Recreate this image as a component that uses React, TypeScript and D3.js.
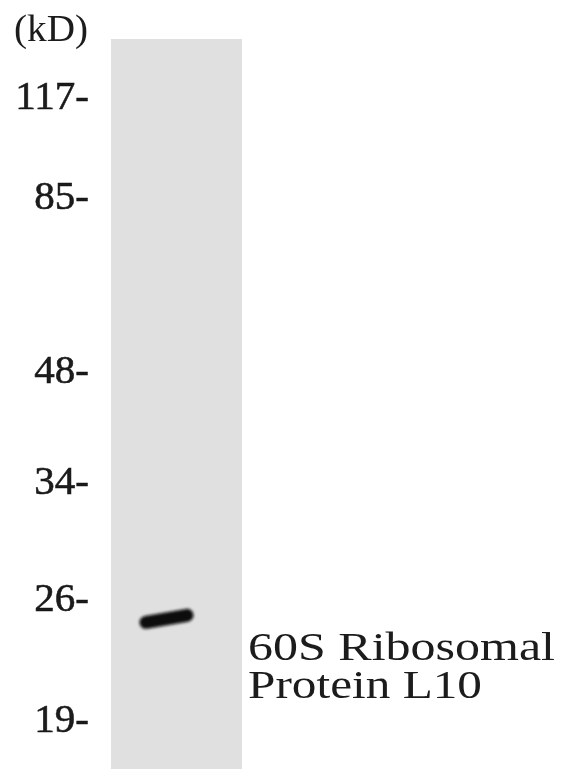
import React, { useEffect, useRef } from 'react';
import * as d3 from 'd3';

// Marker ladder (kD) and the measured centre of each label
const markerKd = [117, 85, 48, 34, 26, 19];
const markerY = [95, 195, 369, 480, 597, 718];

const lanes = ['sample'];
// detected band: lane and apparent size
const bandLane = ['sample'];
const bandKd = [24.6];

const proteinName = ['60S Ribosomal', 'Protein L10'];

const W = 561;
const H = 769;
const FONT = 'Liberation Serif, Times New Roman, Times, serif';

const App: React.FC = () => {
  const ref = useRef<SVGSVGElement>(null);

  useEffect(() => {
    if (!ref.current) return;
    const svg = d3.select(ref.current);
    svg.selectAll('*').remove();

    // piecewise log scale calibrated on the ladder
    const y = d3.scaleLog().domain(markerKd).range(markerY);
    const x = d3.scaleBand<string>().domain(lanes).range([111, 242]).padding(0);

    const defs = svg.append('defs');
    defs.append('filter')
      .attr('id', 'blur')
      .attr('filterUnits', 'userSpaceOnUse')
      .attr('x', 0).attr('y', 0).attr('width', W).attr('height', H)
      .append('feGaussianBlur').attr('stdDeviation', 1.8);
    defs.append('filter')
      .attr('id', 'soft')
      .attr('filterUnits', 'userSpaceOnUse')
      .attr('x', 0).attr('y', 0).attr('width', W).attr('height', H)
      .append('feGaussianBlur').attr('stdDeviation', 0.5);

    // lane background
    svg.selectAll('.lane')
      .data(lanes)
      .enter()
      .append('rect')
      .attr('class', 'lane')
      .attr('x', (d: string) => x(d) as number)
      .attr('y', 39)
      .attr('width', x.bandwidth())
      .attr('height', H - 39)
      .attr('fill', '#e0e0e0');

    // bands
    bandKd.forEach((kd, i) => {
      const lx = x(bandLane[i]) as number;
      const cy = y(kd);
      svg.append('line')
        .attr('x1', lx + 35)
        .attr('y1', cy + 4)
        .attr('x2', lx + 76)
        .attr('y2', cy - 3)
        .attr('stroke', '#0d0d0d')
        .attr('stroke-width', 13)
        .attr('stroke-linecap', 'round')
        .attr('filter', 'url(#blur)');
    });

    const labels = svg.append('g').attr('filter', 'url(#soft)');

    // unit label
    labels.append('text')
      .attr('x', 14)
      .attr('y', 41)
      .style('font-family', FONT)
      .attr('font-size', 38)
      .attr('fill', '#1a1a1a')
      .attr('textLength', 74)
      .attr('lengthAdjust', 'spacingAndGlyphs')
      .text('(kD)');

    // marker labels
    labels.selectAll('.marker')
      .data(markerKd)
      .enter()
      .append('text')
      .attr('class', 'marker')
      .attr('x', 89)
      .attr('y', (d: number) => y(d) + 14)
      .attr('text-anchor', 'end')
      .style('font-family', FONT)
      .attr('font-size', 41)
      .attr('fill', '#1a1a1a')
      .attr('stroke', '#1a1a1a')
      .attr('stroke-width', 0.6)
      .text((d: number) => `${d}-`);

    // protein name
    labels.selectAll('.name')
      .data(proteinName)
      .enter()
      .append('text')
      .attr('class', 'name')
      .attr('x', 248)
      .attr('y', (_d: string, i: number) => 660 + i * 38)
      .style('font-family', FONT)
      .attr('font-size', 41)
      .attr('fill', '#1a1a1a')
      .attr('textLength', (_d: string, i: number) => (i === 0 ? 307 : 234))
      .attr('lengthAdjust', 'spacingAndGlyphs')
      .text((d: string) => d);
  }, []);

  return (
    <svg
      ref={ref}
      width={W}
      height={H}
      style={{ position: 'absolute', left: 0, top: 0, background: '#fff' }}
    />
  );
};

export default App;
